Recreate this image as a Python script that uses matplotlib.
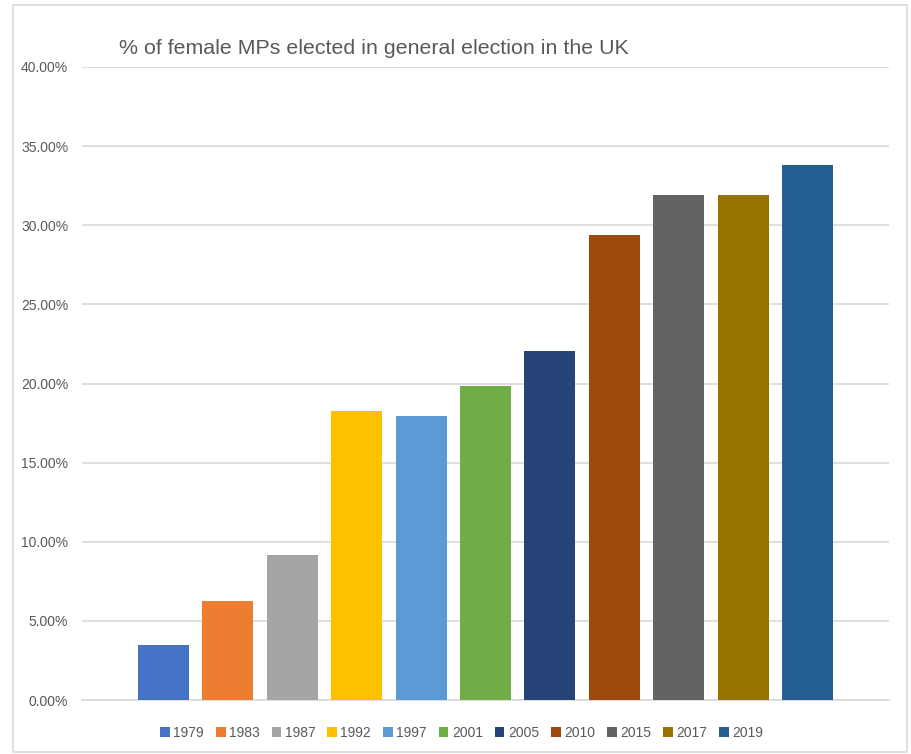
import matplotlib
matplotlib.use("Agg")
import matplotlib.pyplot as plt
from matplotlib.patches import Rectangle, Patch
from matplotlib.ticker import FuncFormatter

years = ["1979", "1983", "1987", "1992", "1997", "2001", "2005", "2010", "2015", "2017", "2019"]
pct_female = [3.48, 6.26, 9.16, 18.26, 17.95, 19.84, 22.05, 29.38, 31.91, 31.91, 33.81]
colors = ["#4472C4", "#ED7D31", "#A5A5A5", "#FFC000", "#5B9BD5", "#70AD47",
          "#264478", "#9E480E", "#636363", "#997300", "#255E91"]

plt.rcParams['font.family'] = ['Liberation Sans', 'DejaVu Sans']
W, H = 911, 754
fig = plt.figure(figsize=(W / 100, H / 100), dpi=100)
fig.patch.set_facecolor("white")

# outer chart border
fig.patches.append(Rectangle((13 / W, 1 - 752 / H), (907 - 13) / W, (752 - 5) / H,
                             transform=fig.transFigure, fill=False,
                             edgecolor="#d9d9d9", linewidth=1.2))

ax = fig.add_axes([82 / W, 1 - 700 / H, (889 - 82) / W, (700 - 67) / H])
x = list(range(len(years)))
ax.bar(x, pct_female, width=0.79, color=colors, zorder=3)
ax.set_xlim(-1.265, 11.265)
ax.set_ylim(0, 40)
ax.set_yticks([0, 5, 10, 15, 20, 25, 30, 35, 40])
ax.yaxis.set_major_formatter(FuncFormatter(lambda v, p: f"{v:.2f}%"))
ax.set_xticks([])
ax.grid(axis="y", color="#d9d9d9", linewidth=1.2, zorder=0)
for s in ["top", "right", "left"]:
    ax.spines[s].set_visible(False)
ax.spines["bottom"].set_color("#d9d9d9")
ax.spines["bottom"].set_linewidth(1.2)
ax.tick_params(axis="y", length=0, pad=10, labelsize=10, labelcolor="#595959")

fig.text(119 / W, 1 - 48 / H, "% of female MPs elected in general election in the UK",
         fontsize=15.4, color="#595959", ha="left", va="center")

handles = [Patch(facecolor=c, edgecolor="none") for c in colors]
fig.legend(handles, years, loc="center", bbox_to_anchor=(0.5 + 6 / W, 1 - 733 / H), ncol=11,
           frameon=False, handlelength=0.7, handleheight=0.7, handletextpad=0.25,
           columnspacing=0.85, fontsize=10, labelcolor="#595959")

fig.savefig("out.png", dpi=100, facecolor="white")
